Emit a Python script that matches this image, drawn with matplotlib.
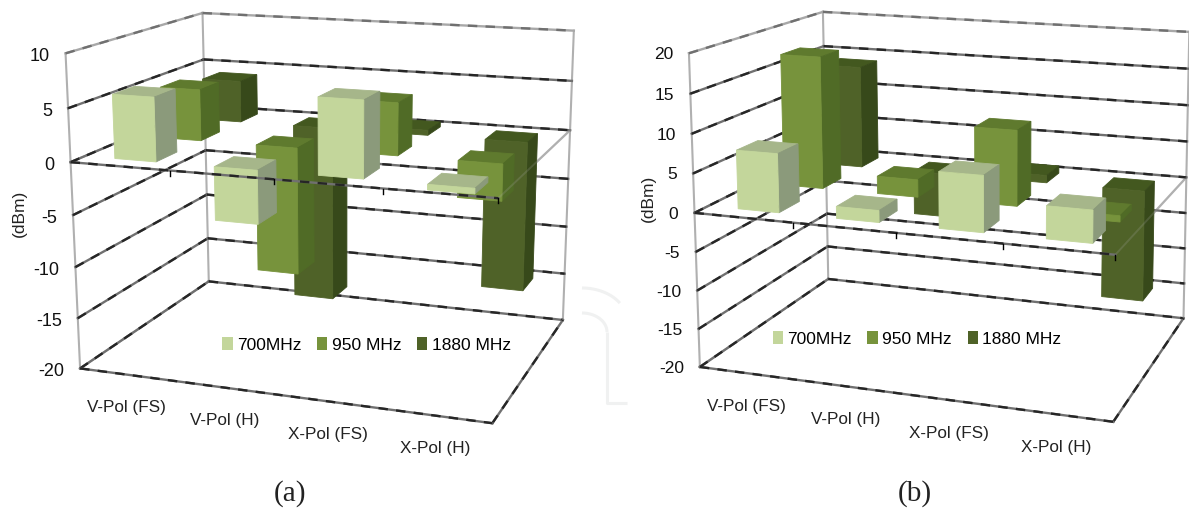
import numpy as np
import matplotlib
matplotlib.use('Agg')
import matplotlib.pyplot as plt
from matplotlib.patches import Polygon, Patch

plt.rcParams['font.family'] = ['Liberation Sans', 'DejaVu Sans']

# --- datos ---
categories = ['V-Pol (FS)', 'V-Pol (H)', 'X-Pol (FS)', 'X-Pol (H)']
series_names = ['700MHz', '950 MHz', '1880 MHz']

# chart (a)
a_700 = [6.0, -5.0, 7.0, -0.5]
a_950 = [5.0, -12.5, 5.0, -3.5]
a_1880 = [4.2, -18.0, 0.5, -15.0]
a_ticks = [-20, -15, -10, -5, 0, 5, 10]

# chart (b)
b_700 = [7.5, 1.5, 7.0, 4.0]
b_950 = [17.5, 2.3, 9.8, -0.8]
b_1880 = [14.0, -6.0, 1.0, -15.0]
b_ticks = [-20, -15, -10, -5, 0, 5, 10, 15, 20]

# colores: frente, tapa, lado
face_colors = ['#C3D69B', '#77933C', '#4F6228']
top_colors = ['#A6B68A', '#5F7A2E', '#43581F']
side_colors = ['#8B9A7B', '#506B26', '#37491A']

GREY = '#B0B0B0'

BAR_W = 0.105    # ancho de barra, fraccion del eje x
BAR_D = 0.15     # fondo de barra, fraccion del eje de profundidad
BAR_SHIFT = 0.005


def fit_camera(corners):
    """Ajusta la camara 3x4 (DLT) que lleva la caja unidad a pixeles."""
    rows = []
    for (x, y, z), (u, v) in corners:
        p = [x, y, z, 1]
        rows.append(p + [0, 0, 0, 0] + [-u * c for c in p])
        rows.append([0, 0, 0, 0] + p + [-v * c for c in p])
    _, _, vt = np.linalg.svd(np.array(rows, dtype=float))
    return vt[-1].reshape(3, 4)


def draw_chart(ax, corners, series, ticks, xlim, legend_xy, label, label_xy, ylabel_xy, tick_size, tick_dy):
    cam = fit_camera(corners)
    zmin, zmax = ticks[0], ticks[-1]

    def proj(x, y, val):
        h = cam @ np.array([x, y, (val - zmin) / (zmax - zmin), 1.0])
        return h[0] / h[2], h[1] / h[2]

    def line(p0, p1, **kw):
        ax.plot(*zip(proj(*p0), proj(*p1)), **kw)

    def rough(p0, p1, base='#707070', blob='#262626', z=2):
        # linea manchada como la del original
        line(p0, p1, color=base, lw=1.7, zorder=z)
        line(p0, p1, color=blob, lw=1.7, ls=(0, (4, 3.5)), zorder=z)

    grey = dict(color=GREY, lw=1.5, zorder=1)

    # paredes
    for t in ticks:
        colors = ('#A8A8A8', '#707070') if t == zmax else ('#707070', '#262626')
        rough((0, 0, t), (0, 1, t), *colors)
        rough((0, 1, t), (1, 1, t), *colors)
    for x, y in [(0, 0), (0, 1), (1, 1)]:
        line((x, y, zmin), (x, y, zmax), **grey)

    # piso y plano del cero
    line((0, 0, zmin), (0, 1, zmin), **grey)
    line((0, 0, 0), (0, 1, 0), **grey)
    rough((1, 0, zmin), (1, 1, zmin))
    line((1, 0, 0), (1, 1, 0), color=GREY, lw=1.6, zorder=1)

    # barras: de atras hacia adelante, de izquierda a derecha
    n_cat = len(categories)
    n_ser = len(series)
    for s in range(n_ser - 1, -1, -1):
        y0 = (s + 0.5) / n_ser - BAR_D / 2
        y1 = y0 + BAR_D
        for c in range(n_cat):
            x0 = (c + 0.5) / n_cat - BAR_W / 2 + BAR_SHIFT
            x1 = x0 + BAR_W
            val = series[s][c]
            hi, lo = max(val, 0), min(val, 0)
            faces = [
                (top_colors[s], [(x0, y0, hi), (x1, y0, hi), (x1, y1, hi), (x0, y1, hi)]),
                (side_colors[s], [(x1, y0, hi), (x1, y1, hi), (x1, y1, lo), (x1, y0, lo)]),
                (face_colors[s], [(x0, y0, hi), (x1, y0, hi), (x1, y0, lo), (x0, y0, lo)]),
            ]
            for col, pts in faces:
                ax.add_patch(Polygon([proj(*p) for p in pts], closed=True, facecolor=col,
                                     edgecolor=col, lw=0.6, zorder=3))

    # lineas delanteras sobre las barras
    rough((0, 0, 0), (1, 0, 0), z=5)
    rough((0, 0, zmin), (1, 0, zmin), z=5)
    line((1, 0, 0), (1, 1, 0), color=GREY, lw=1.4, alpha=0.2, zorder=4)
    for c in range(1, n_cat + 1):
        u, v = proj(c / n_cat, 0, 0)
        ax.plot([u, u], [v, v + 5], color='black', lw=1.0, zorder=5)

    # textos
    for t in ticks:
        u, v = proj(0, 0, t)
        ax.text(u - 16, v + tick_dy, str(t), ha='right', va='center', fontsize=tick_size, color='#111111')
    for c, name in enumerate(categories):
        u, v = proj((c + 0.5) / n_cat, 0, zmin)
        ax.text(u - 1, v + 33, name, ha='center', va='center', fontsize=12.3, color='#222222')
    ax.text(*ylabel_xy, '(dBm)', rotation=90, ha='center', va='center', fontsize=12.5, color='#222222')
    ax.text(*label_xy, label, ha='center', va='center', fontsize=21,
            family=['Liberation Serif', 'DejaVu Serif'], color='#222222')

    handles = [Patch(facecolor=col, edgecolor='none', label=n) for col, n in zip(face_colors, series_names)]
    ax.legend(handles=handles, loc='center', bbox_to_anchor=legend_xy, bbox_transform=ax.transData,
              ncol=3, frameon=False, fontsize=12.5, handlelength=0.6, handleheight=0.7,
              handletextpad=0.25, columnspacing=0.9, borderpad=0)

    ax.set_xlim(*xlim)
    ax.set_ylim(508, 0)
    ax.axis('off')


# esquinas de la caja en pixeles: (x, profundidad, altura) -> (u, v)
corners_a = [((0, 0, 1), (66, 53)), ((0, 0, 0), (80, 368)), ((0, 1, 1), (202, 13)), ((0, 1, 0), (209, 282)),
             ((1, 1, 1), (574, 31)), ((1, 1, 0), (563, 319)), ((1, 0, 0), (492, 424))]
corners_b = [((0, 0, 1), (688, 53)), ((0, 0, 0), (701, 367)), ((0, 1, 1), (824, 12)), ((0, 1, 0), (827, 279)),
             ((1, 1, 1), (1189, 32)), ((1, 1, 0), (1184, 318)), ((1, 0, 0), (1113, 422))]

fig = plt.figure(figsize=(11.89, 5.08), dpi=100)
ax_a = fig.add_axes([0, 0, 600 / 1189, 1])
ax_b = fig.add_axes([600 / 1189, 0, 589 / 1189, 1])

# marca de agua tenue
wm = dict(color='#F0F1F1', lw=2.2, zorder=0, clip_on=False, solid_capstyle='butt')
t = np.linspace(0, 1, 30)
ax_a.plot(582 + 45 * np.sin(t), 288 + 21 * (1 - np.cos(t)) / (1 - np.cos(1)) * 0.72, **wm)
t = np.linspace(0, np.pi / 2, 30)
ax_a.plot(582 + 25 * np.sin(t), 332 - 19 * np.cos(t), **wm)
ax_a.plot([607, 607, 627], [332, 403, 403], **wm)

draw_chart(ax_a, corners_a, [a_700, a_950, a_1880], a_ticks, (0, 600), (366.5, 345), '(a)', (290, 494), (19, 213), 13, 3.5)
draw_chart(ax_b, corners_b, [b_700, b_950, b_1880], b_ticks, (600, 1189), (917, 339), '(b)', (915, 494), (648, 198), 12.5, 1.5)

fig.savefig('out.png', dpi=100)
